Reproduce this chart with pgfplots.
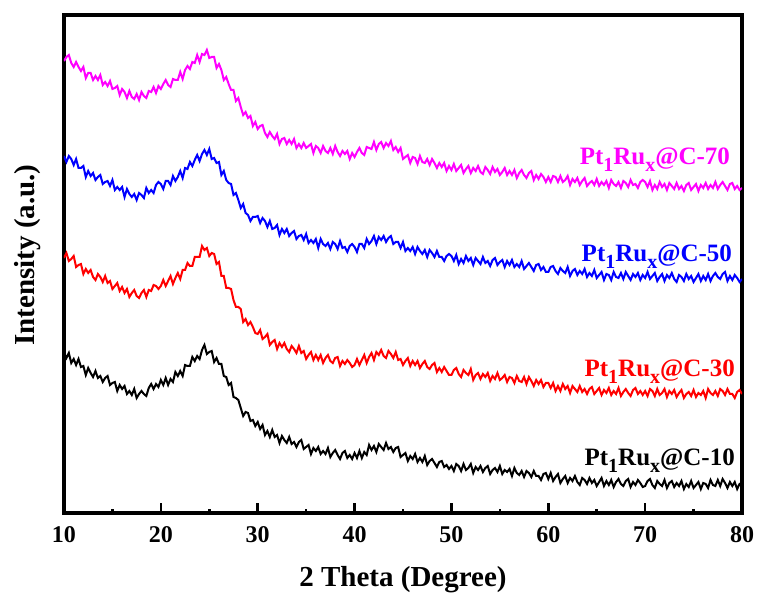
\documentclass[border=0pt]{standalone}
\usepackage{fontspec}
\setmainfont{Liberation Serif}
\usepackage{pgfplots}
\usepackage{pgfplotstable}
\pgfplotsset{compat=1.18}

\definecolor{mg}{RGB}{255,0,255}
\definecolor{rd}{RGB}{255,0,0}
\definecolor{bl}{RGB}{0,0,255}

% XRD patterns, offset per sample (a.u.)
% x = 2theta, k = C-10, r = C-30, b = C-50, m = C-70
\pgfplotstableread{
x k r b m
10.00 161 255 357 452
10.25 155 260 351 456
10.50 160 252 357 458
10.75 150 254 354 450
11.00 154 257 348 446
11.25 148 246 354 451
11.50 154 248 345 446
11.75 146 249 345 442
12.00 147 239 347 446
12.25 138 244 336 435
12.50 145 240 342 440
12.75 140 243 337 440
13.00 136 236 340 433
13.25 142 233 333 437
13.50 135 239 336 433
13.75 137 236 338 438
14.00 131 231 329 428
14.25 135 237 331 431
14.50 137 230 332 427
14.75 128 232 327 432
15.00 130 224 333 424
15.25 131 227 323 425
15.50 122 230 326 427
15.75 128 222 323 418
16.00 124 226 326 424
16.25 127 220 316 421
16.50 119 224 324 415
16.75 122 216 319 422
17.00 118 220 316 416
17.25 124 223 319 414
17.50 115 217 313 419
17.75 119 215 320 413
18.00 122 220 318 421
18.25 119 223 315 417
18.50 117 216 325 415
18.75 125 223 320 422
19.00 129 222 323 421
19.25 124 228 320 426
19.50 129 227 328 420
19.75 126 224 331 427
20.00 133 227 329 424
20.25 128 233 324 429
20.50 135 227 332 433
20.75 128 232 332 428
21.00 134 237 328 426
21.25 131 229 337 434
21.50 141 235 332 433
21.75 137 240 336 433
22.00 142 234 342 441
22.25 137 243 335 434
22.50 148 243 345 443
22.75 147 250 344 447
23.00 147 247 351 444
23.25 156 247 347 451
23.50 152 256 353 450
23.75 157 256 358 458
24.00 154 256 352 451
24.25 163 267 359 459
24.50 168 263 363 458
24.75 159 265 358 463
25.00 161 257 364 455
25.25 162 260 354 456
25.50 151 259 355 456
25.75 155 249 350 445
26.00 149 251 351 449
26.25 149 237 338 443
26.50 137 237 342 433
26.75 136 225 333 436
27.00 128 225 330 429
27.25 130 224 329 423
27.50 116 213 318 423
27.75 115 206 320 412
28.00 113 206 313 415
28.25 105 204 305 406
28.50 97 191 309 398
28.75 101 194 300 401
29.00 100 188 298 395
29.25 92 191 292 397
29.50 93 186 296 387
29.75 87 180 296 391
30.00 91 179 297 384
30.25 84 183 290 387
30.50 88 174 295 388
30.75 78 176 292 380
31.00 82 179 286 376
31.25 76 168 292 381
31.50 83 171 284 377
31.75 76 173 285 374
32.00 78 164 288 379
32.25 70 170 278 369
32.50 77 166 284 374
32.75 73 170 280 375
33.00 70 164 284 369
33.25 76 161 277 373
33.50 69 167 280 369
33.75 71 164 282 374
34.00 66 160 274 365
34.25 71 167 277 369
34.50 73 160 278 365
34.75 64 162 273 370
35.00 66 154 279 365
35.25 68 158 270 367
35.50 59 161 273 369
35.75 65 153 270 360
36.00 62 158 274 367
36.25 66 153 265 365
36.50 59 158 274 360
36.75 62 150 269 367
37.00 59 155 267 362
37.25 65 158 270 360
37.50 56 152 264 365
37.75 60 150 271 359
38.00 63 155 269 367
38.25 58 156 264 361
38.50 54 147 272 357
38.75 60 152 265 362
39.00 62 149 266 359
39.25 55 153 261 362
39.50 58 150 267 354
39.75 54 146 269 360
40.00 60 148 266 356
40.25 55 154 261 361
40.50 62 148 269 365
40.75 55 153 269 360
41.00 61 158 265 358
41.25 58 150 274 366
41.50 68 156 269 365
41.75 63 160 272 364
42.00 67 153 277 371
42.25 61 161 269 363
42.50 69 158 276 369
42.75 66 163 273 371
43.00 63 157 277 365
43.25 70 155 271 370
43.50 64 162 275 367
43.75 66 159 277 372
44.00 61 155 269 363
44.25 65 161 271 366
44.50 66 153 271 361
44.75 56 154 265 365
45.00 58 148 271 354
45.25 60 152 262 356
45.50 52 155 265 358
45.75 57 147 262 350
46.00 54 152 266 356
46.25 59 148 259 355
46.50 51 152 266 349
46.75 55 145 262 357
47.00 51 149 259 351
47.25 57 152 263 350
47.50 48 146 256 354
47.75 52 144 263 348
48.00 54 148 260 354
48.25 50 150 256 350
48.50 46 141 262 345
48.75 51 145 256 350
49.00 52 141 256 346
49.25 46 146 252 350
49.50 48 142 257 342
49.75 44 138 259 347
50.00 47 138 257 343
50.25 42 143 252 349
50.50 49 145 258 342
50.75 47 139 249 345
51.00 42 136 254 348
51.25 49 143 250 340
51.50 43 140 257 344
51.75 45 138 252 347
52.00 49 144 255 340
52.25 40 133 248 345
52.50 46 138 255 342
52.75 43 140 252 347
53.00 47 134 249 341
53.25 41 139 256 339
53.50 45 136 250 346
53.75 47 140 252 343
54.00 39 132 247 339
54.25 43 137 253 346
54.50 45 134 255 341
54.75 41 140 248 344
55.00 47 133 251 338
55.25 39 135 253 341
55.50 43 138 246 345
55.75 41 131 252 338
56.00 44 136 248 342
56.25 37 135 253 338
56.50 45 130 246 343
56.75 40 137 249 335
57.00 38 132 246 340
57.25 42 131 252 343
57.50 36 136 244 338
57.75 42 129 247 335
58.00 40 136 250 340
58.25 36 132 246 342
58.50 42 127 242 333
58.75 37 133 248 338
59.00 37 129 249 334
59.25 33 133 243 339
59.50 39 126 246 336
59.75 40 130 241 331
60.00 34 130 241 336
60.25 40 125 246 331
60.50 32 130 247 337
60.75 36 122 242 336
61.00 39 127 239 331
61.25 30 122 245 337
61.50 34 129 242 331
61.75 37 124 240 333
62.00 30 127 246 337
62.25 35 120 237 328
62.50 32 127 242 334
62.75 37 124 244 331
63.00 31 121 238 335
63.25 28 127 242 328
63.50 35 121 239 332
63.75 33 124 244 335
64.00 29 119 236 327
64.25 35 124 240 330
64.50 30 126 237 332
64.75 33 119 243 328
65.00 27 122 235 334
65.25 31 125 238 327
65.50 35 118 241 331
65.75 27 123 233 328
66.00 32 120 239 332
66.25 28 125 238 325
66.50 33 118 233 333
66.75 26 122 241 329
67.00 31 119 236 327
67.25 34 125 235 331
67.50 29 117 240 325
67.75 27 121 234 332
68.00 32 124 241 330
68.25 34 120 237 326
68.50 26 117 233 333
68.75 31 123 239 328
69.00 28 125 236 329
69.25 33 119 240 325
69.50 30 122 233 331
69.75 26 118 238 333
70.00 27 122 235 331
70.25 32 117 241 326
70.50 34 124 234 332
70.75 28 122 237 323
71.00 25 117 240 328
71.25 32 124 232 324
71.50 29 118 236 331
71.75 27 120 239 326
72.00 33 124 232 329
72.25 25 116 238 323
72.50 30 122 235 330
72.75 32 119 240 327
73.00 26 123 234 324
73.25 30 116 231 330
73.50 27 120 238 324
73.75 32 123 236 327
74.00 24 115 232 322
74.25 29 119 239 328
74.50 26 121 234 330
74.75 32 117 237 323
75.00 25 123 231 326
75.25 28 116 235 329
75.50 31 120 239 322
75.75 24 118 232 328
76.00 30 122 237 325
76.25 29 115 233 330
76.50 25 124 239 324
76.75 33 120 232 328
77.00 28 118 237 325
77.25 27 122 240 331
77.50 33 117 236 324
77.75 27 124 234 328
78.00 34 122 239 331
78.25 30 118 241 327
78.50 25 124 232 323
78.75 31 119 237 329
79.00 27 119 233 330
79.25 31 115 238 324
79.50 24 121 235 327
79.75 29 123 231 323
80.00 28 119 234 325
}\xrd

% subscript in the label font
\newcommand\sub[1]{\raisebox{-3.3pt}{\fontsize{10}{10}\selectfont\bfseries #1}}
\tikzset{lbl/.style={anchor=base east, inner sep=0pt, font=\fontsize{12.5}{12.5}\selectfont\bfseries}}

\begin{document}
\begin{tikzpicture}
\begin{axis}[
    scale only axis,
    width=339pt, height=249pt,
    xmin=10, xmax=80, ymin=0, ymax=498,
    axis line style={line width=1.6pt},
    xtick={10,20,...,80},
    minor x tick num=1,
    ytick=\empty,
    xtick pos=bottom,
    tick align=inside,
    major tick length=4.8pt,
    minor tick length=2pt,
    every tick/.style={black, line width=1.3pt},
    xticklabel shift=3.3pt,
    tick label style={font=\fontsize{12}{12}\selectfont\bfseries},
    /pgf/number format/assume math mode=true,
    xlabel={2 Theta (Degree)},
    ylabel={Intensity (a.u.)},
    every axis x label/.style={at={(axis description cs:0.5,0)}, anchor=base, yshift=-37pt},
    every axis y label/.style={at={([xshift=-14.5pt]axis description cs:0,0.518)}, rotate=90, anchor=base},
    label style={font=\fontsize{14.5}{15}\selectfont\bfseries},
]
\addplot[black, line width=1pt] table[x=x, y=k] {\xrd};
\addplot[rd, line width=1pt] table[x=x, y=r] {\xrd};
\addplot[bl, line width=1pt] table[x=x, y=b] {\xrd};
\addplot[mg, line width=1pt] table[x=x, y=m] {\xrd};

\node[lbl, text=mg] at (axis cs:78.8,348) {Pt\sub{1}Ru\sub{x}@C-70};
\node[lbl, text=bl] at (axis cs:79.0,251) {Pt\sub{1}Ru\sub{x}@C-50};
\node[lbl, text=rd] at (axis cs:79.3,136) {Pt\sub{1}Ru\sub{x}@C-30};
\node[lbl, text=black] at (axis cs:79.3,47) {Pt\sub{1}Ru\sub{x}@C-10};

\coordinate (ll) at (rel axis cs:0,0);
\coordinate (ur) at (rel axis cs:1,1);
\end{axis}
\path ([shift={(-32pt,-41.5pt)}]ll) rectangle ([shift={(9.5pt,7.5pt)}]ur);
\end{tikzpicture}
\end{document}
